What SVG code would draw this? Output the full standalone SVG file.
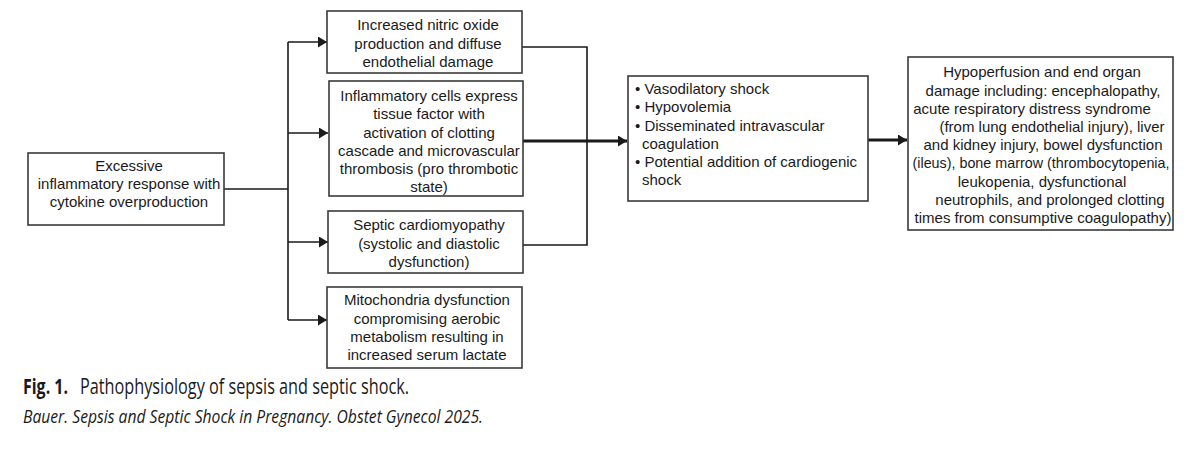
<svg xmlns="http://www.w3.org/2000/svg" width="1199" height="453" viewBox="0 0 1199 453">
<style>
.box{fill:#fff;stroke:#3a3a3a;stroke-width:1.6}
.t{font-family:"Liberation Sans",Arial,sans-serif;font-size:15px;fill:#1a1a1a;text-anchor:middle}
.tl{font-family:"Liberation Sans",Arial,sans-serif;font-size:15px;fill:#1a1a1a}
.c{fill:none;stroke:#1a1a1a;stroke-width:1.6}
.ck{fill:none;stroke:#1a1a1a;stroke-width:3}
.cap{font-family:"Open Sans","Noto Sans",sans-serif;fill:#1a1a1a}
</style>
<defs>
<marker id="ah" markerUnits="userSpaceOnUse" markerWidth="10" markerHeight="12" refX="9" refY="5.5" orient="auto">
<path d="M0,0 L9,5.5 L0,11 z" fill="#1a1a1a"/>
</marker>
</defs>
<rect width="1199" height="453" fill="#fff"/>
<g id="connectors">
<path class="c" d="M224,189 H288"/>
<path class="c" d="M288,42 V320"/>
<path class="c" d="M288,42 H327" marker-end="url(#ah)"/>
<path class="c" d="M288,133 H328" marker-end="url(#ah)"/>
<path class="c" d="M288,242 H328" marker-end="url(#ah)"/>
<path class="c" d="M288,320 H327" marker-end="url(#ah)"/>
<path class="c" d="M522,47 H587 V245 H523"/>
<path class="ck" d="M523,141 H627" marker-end="url(#ah)"/>
<path class="ck" d="M868,140 H907" marker-end="url(#ah)"/>
</g>
<g id="node-excessive">
<rect class="box" x="28" y="153" width="196" height="72"/>
<text class="t" x="129" y="171">Excessive</text>
<text class="t" x="129" y="189">inflammatory response with</text>
<text class="t" x="129" y="207">cytokine overproduction</text>
</g>
<g id="node-nitric">
<rect class="box" x="327" y="11" width="195" height="62"/>
<text class="t" x="428" y="30">Increased nitric oxide</text>
<text class="t" x="428" y="48.5">production and diffuse</text>
<text class="t" x="428" y="67">endothelial damage</text>
</g>
<g id="node-inflammatory">
<rect class="box" x="329" y="81" width="194" height="115"/>
<text class="t" x="429" y="101">Inflammatory cells express</text>
<text class="t" x="429" y="119">tissue factor with</text>
<text class="t" x="429" y="137.5">activation of clotting</text>
<text class="t" x="429" y="155.5">cascade and microvascular</text>
<text class="t" x="429" y="174">thrombosis (pro thrombotic</text>
<text class="t" x="429" y="192">state)</text>
</g>
<g id="node-septic">
<rect class="box" x="328" y="211" width="195" height="62"/>
<text class="t" x="429" y="230">Septic cardiomyopathy</text>
<text class="t" x="429" y="248.5">(systolic and diastolic</text>
<text class="t" x="429" y="267">dysfunction)</text>
</g>
<g id="node-mitochondria">
<rect class="box" x="327" y="287" width="195" height="81"/>
<text class="t" x="427" y="305">Mitochondria dysfunction</text>
<text class="t" x="427" y="323.5">compromising aerobic</text>
<text class="t" x="427" y="342">metabolism resulting in</text>
<text class="t" x="427" y="360">increased serum lactate</text>
</g>
<g id="node-shock">
<rect class="box" x="628" y="76" width="240" height="125"/>
<text class="tl" x="635" y="94">• Vasodilatory shock</text>
<text class="tl" x="635" y="112">• Hypovolemia</text>
<text class="tl" x="635" y="131">• Disseminated intravascular</text>
<text class="tl" x="642" y="149">coagulation</text>
<text class="tl" x="635" y="167">• Potential addition of cardiogenic</text>
<text class="tl" x="642" y="185">shock</text>
</g>
<g id="node-hypoperfusion">
<rect class="box" x="908" y="57" width="265" height="173"/>
<text class="t" x="1042" y="77">Hypoperfusion and end organ</text>
<text class="t" x="1043" y="96">damage including: encephalopathy,</text>
<text class="t" x="1032" y="114">acute respiratory distress syndrome</text>
<text class="t" x="1052" y="132">(from lung endothelial injury), liver</text>
<text class="t" x="1043" y="150">and kidney injury, bowel dysfunction</text>
<text class="t" x="1041" y="168" textLength="257" lengthAdjust="spacingAndGlyphs">(ileus), bone marrow (thrombocytopenia,</text>
<text class="t" x="1042" y="187">leukopenia, dysfunctional</text>
<text class="t" x="1050" y="205">neutrophils, and prolonged clotting</text>
<text class="t" x="1043" y="223">times from consumptive coagulopathy)</text>
</g>
<g id="caption">
<text class="cap" x="23" y="394" font-size="21" font-weight="bold" textLength="45" lengthAdjust="spacingAndGlyphs">Fig. 1.</text>
<text class="cap" x="80" y="394" font-size="21" textLength="329" lengthAdjust="spacingAndGlyphs">Pathophysiology of sepsis and septic shock.</text>
<text class="cap" x="23" y="423" font-size="18" font-style="italic" textLength="460" lengthAdjust="spacingAndGlyphs">Bauer. Sepsis and Septic Shock in Pregnancy. Obstet Gynecol 2025.</text>
</g>
</svg>
